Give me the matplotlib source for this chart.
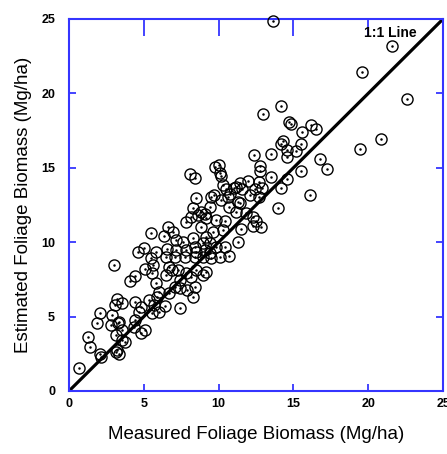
# Foliage biomass: estimated vs measured, with 1:1 line
import matplotlib
matplotlib.use("Agg")
import matplotlib.pyplot as plt

plt.rcParams['font.family'] = ['Liberation Sans', 'DejaVu Sans']

# measured (x) and estimated (y) foliage biomass, Mg/ha
measured = [
    13.62, 21.62, 19.55, 22.58, 14.20, 12.95, 14.69, 14.82, 16.20, 16.49, 15.58, 20.85, 19.47, 14.31, 14.18, 15.51,
    15.18, 14.58, 14.58, 16.80, 17.25, 15.51, 14.58, 14.18, 16.13, 14.00,
    12.35, 13.47, 10.00, 9.78, 12.78, 12.78, 10.07, 10.18, 8.11, 8.45, 13.49, 11.95, 12.69, 11.40, 11.18, 10.29,
    10.51, 11.02, 11.55, 12.42, 12.91, 9.67, 9.47, 10.73, 10.62, 12.07, 12.73, 8.51, 10.18, 11.29, 11.40, 8.29,
    9.40, 10.69, 11.18, 11.85, 8.85, 9.07, 8.62, 8.18, 9.18, 9.85, 10.40, 7.80, 12.33, 12.47, 11.51, 12.85,
    12.29, 8.85, 9.62, 10.29, 6.95, 9.18, 8.29, 7.62, 7.18, 9.40, 8.95, 9.85, 8.40, 7.85, 10.40,
    6.62, 5.47, 6.35, 5.00, 4.62, 5.80, 6.58, 5.45, 6.47,
    3.02, 5.11, 5.62, 5.55, 4.38, 4.07, 5.82, 6.45, 6.89, 6.67, 6.00, 5.89, 5.33, 6.67, 7.11, 3.18,
    3.55, 3.07, 4.44, 4.78, 4.67, 5.67, 5.55, 6.00, 2.05, 2.89, 3.33, 2.78, 3.29, 1.85, 3.55, 3.11,
    3.55, 5.11, 4.78, 3.73, 3.22, 3.33, 3.11, 1.27, 1.38, 2.05, 2.11, 0.67, 4.33, 4.44,
    7.29, 7.45, 7.85, 8.18, 8.51, 9.18, 8.95, 7.40, 7.91, 8.40, 8.29, 7.40, 6.40,
    7.18, 7.07, 7.73, 8.51, 9.07, 9.40, 10.07, 9.51, 8.95, 8.40, 11.30, 10.70,
]
estimated = [
    24.89, 23.21, 21.46, 19.64, 19.15, 18.60, 18.08, 17.94, 17.90, 17.63, 17.41, 16.94, 16.28, 16.78, 16.60, 16.60,
    16.15, 16.18, 15.75, 15.59, 14.90, 14.76, 14.25, 13.64, 13.17, 12.30,
    15.88, 15.93, 15.19, 15.07, 15.12, 14.81, 14.63, 14.45, 14.56, 14.33, 14.40, 14.13, 14.03, 13.96, 13.73, 13.84,
    13.56, 13.66, 13.58, 13.56, 13.62, 13.17, 13.06, 13.24, 13.06, 13.17, 13.02, 12.95, 12.84, 12.72, 12.61, 12.28,
    12.35, 12.39, 12.05, 11.94, 12.05, 11.90, 11.83, 11.71, 11.61, 11.49, 11.44, 11.38, 11.71, 11.42, 10.87, 11.00,
    11.09, 11.00, 10.71, 10.82, 10.71, 10.37, 10.26, 10.03, 10.15, 9.93, 9.93, 9.70, 9.70, 9.48, 9.66,
    11.04, 10.60, 10.42, 9.63, 9.32, 9.32, 9.54, 8.92, 8.99,
    8.47, 8.18, 8.47, 7.91, 7.73, 7.41, 7.28, 7.80, 8.13, 8.35, 6.67, 6.30, 6.12, 6.57, 7.01, 6.16,
    5.93, 5.78, 6.00, 5.67, 5.33, 5.78, 5.22, 5.33, 5.26, 5.11, 4.66, 4.44, 4.55, 4.55, 4.10, 3.76,
    3.43, 4.10, 3.92, 3.31, 2.76, 2.49, 2.64, 3.61, 2.94, 2.47, 2.31, 1.53, 4.32, 4.77,
    8.13, 7.46, 7.91, 7.64, 8.13, 8.02, 7.80, 6.90, 6.79, 7.01, 6.30, 5.56, 5.70,
    9.48, 9.03, 8.99, 9.36, 9.48, 9.25, 9.03, 8.92, 9.03, 8.99, 10.00, 9.10,
]
ticks = [0, 5, 10, 15, 20, 25]
one_to_one = [0, 25]

blue = '#3535ff'

fig = plt.figure(figsize=(4.47, 4.54), dpi=100)
ax = fig.add_axes([0.1544, 0.1388, 0.8368, 0.8194])

ax.plot(one_to_one, one_to_one, color='black', lw=2.3, solid_capstyle='butt', zorder=2)
ax.plot(measured, estimated, 'o', ms=8, mfc='none', mec='black', mew=1.0, zorder=3, clip_on=False)
ax.plot(measured, estimated, '.', ms=1.6, color='black', zorder=3, clip_on=False)
ax.text(21.5, 24.05, '1:1 Line', fontsize=10, fontweight='bold', ha='center', va='center')

ax.set_xlim(0, 25)
ax.set_ylim(0, 25)
ax.set_xticks(ticks)
ax.set_yticks(ticks)
for sp in ax.spines.values():
    sp.set_color(blue)
    sp.set_linewidth(1.5)
ax.tick_params(axis='both', which='major', direction='in', length=5, width=1.3, color=blue,
               labelsize=9, top=True, right=True, labelcolor='black')
ax.tick_params(axis='x', pad=5)
ax.tick_params(axis='y', pad=10)
for lbl in ax.get_xticklabels() + ax.get_yticklabels():
    lbl.set_fontweight('bold')

# top ticks cross the frame
for t in ax.xaxis.get_major_ticks():
    t.tick2line.set_markersize(12)
    t.tick2line.set_marker(3)

ax.set_xlabel('Measured Foliage Biomass (Mg/ha)', fontsize=13.5)
ax.set_ylabel('Estimated Foliage Biomass (Mg/ha)', fontsize=13.5)
ax.xaxis.set_label_coords(0.5, -0.095)
ax.yaxis.set_label_coords(-0.10, 0.5)

fig.savefig('out.png', dpi=100)
